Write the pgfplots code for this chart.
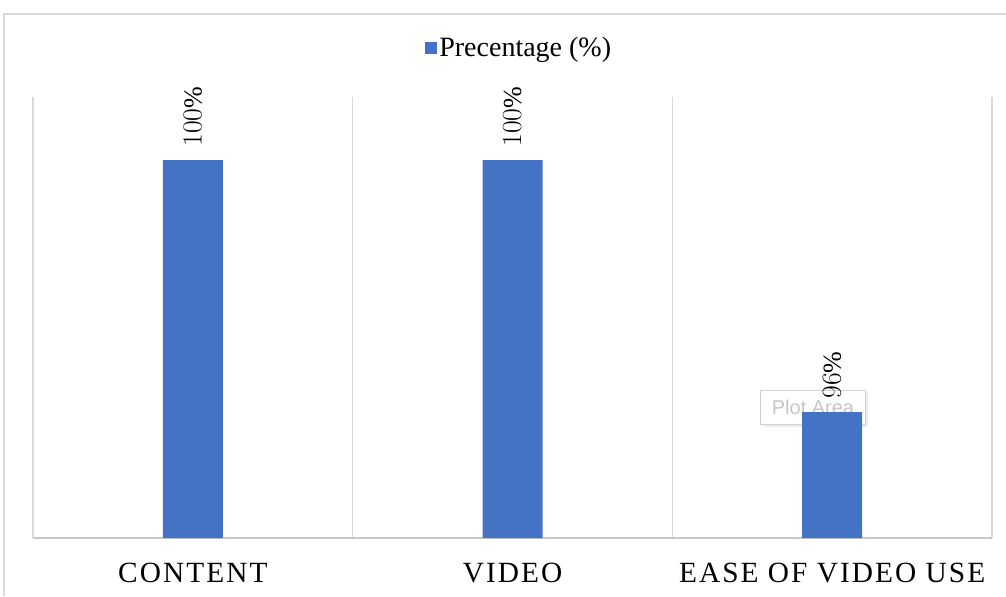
\documentclass[border=0pt]{standalone}
\usepackage{fontspec}
\setmainfont{Liberation Serif}
\newfontfamily\uisans{Liberation Sans}
\usepackage{pgfplots}
\pgfplotsset{compat=1.18}
\usetikzlibrary{shadows}
\definecolor{barblue}{HTML}{4472C4}
\definecolor{gridc}{HTML}{D9D9D9}
\definecolor{axisc}{HTML}{C8C8C8}
\begin{document}
\begin{tikzpicture}[x=0.75pt,y=0.75pt]
\useasboundingbox (0,0) rectangle (1006,-596);
\draw[gridc, line width=1.5pt] (4,-596) -- (4,-14) -- (1006,-14);
% tooltip artefact from the screenshot
\node[draw=gray!35, fill=white, drop shadow={opacity=0.15, shadow xshift=2pt, shadow yshift=-2pt},
      minimum width=78.75pt, minimum height=25.5pt, inner sep=0pt,
      font=\uisans\fontsize{15}{17}\selectfont, text=gray!45] at (813,-407) {Plot Area};
\begin{axis}[
  at={(24.75pt,-403.5pt)}, anchor=south west,
  scale only axis, width=719.25pt, height=330.75pt,
  ybar, bar width=45pt,
  xmin=-0.5, xmax=2.5, ymin=94, ymax=101,
  axis x line=bottom, axis y line=none,
  x axis line style={color=axisc, line width=1pt, -},
  xtick={0,1,2},
  xticklabels={CONTENT, VIDEO, EASE OF VIDEO USE},
  major tick length=0pt, minor tick length=0pt,
  minor xtick={-0.5,0.5,1.5,2.5},
  xminorgrids, minor grid style={color=gridc, line width=0.8pt},
  xticklabel style={anchor=base, yshift=-33pt,
     font=\fontsize{22}{26}\selectfont\addfontfeatures{LetterSpace=7}},
  nodes near coords={\pgfmathprintnumber{\pgfplotspointmeta}\%},
  every node near coord/.append style={rotate=90, anchor=west, inner xsep=10pt,
     font=\fontsize{19.5}{22}\selectfont, text=black},
  legend style={at={(0.507,1.111)}, anchor=center, draw=none, fill=none,
     font=\fontsize{21}{25}\selectfont, inner sep=0pt,
     /tikz/every even column/.append style={column sep=0pt}},
  legend image code/.code={\fill[barblue] (-1pt,-4.5pt) rectangle (8pt,4.5pt);},
]
\addplot[fill=barblue, draw=none] coordinates {(0,100) (1,100) (2,96)};
\addlegendentry{Precentage (\%)}
\end{axis}
\end{tikzpicture}
\end{document}
